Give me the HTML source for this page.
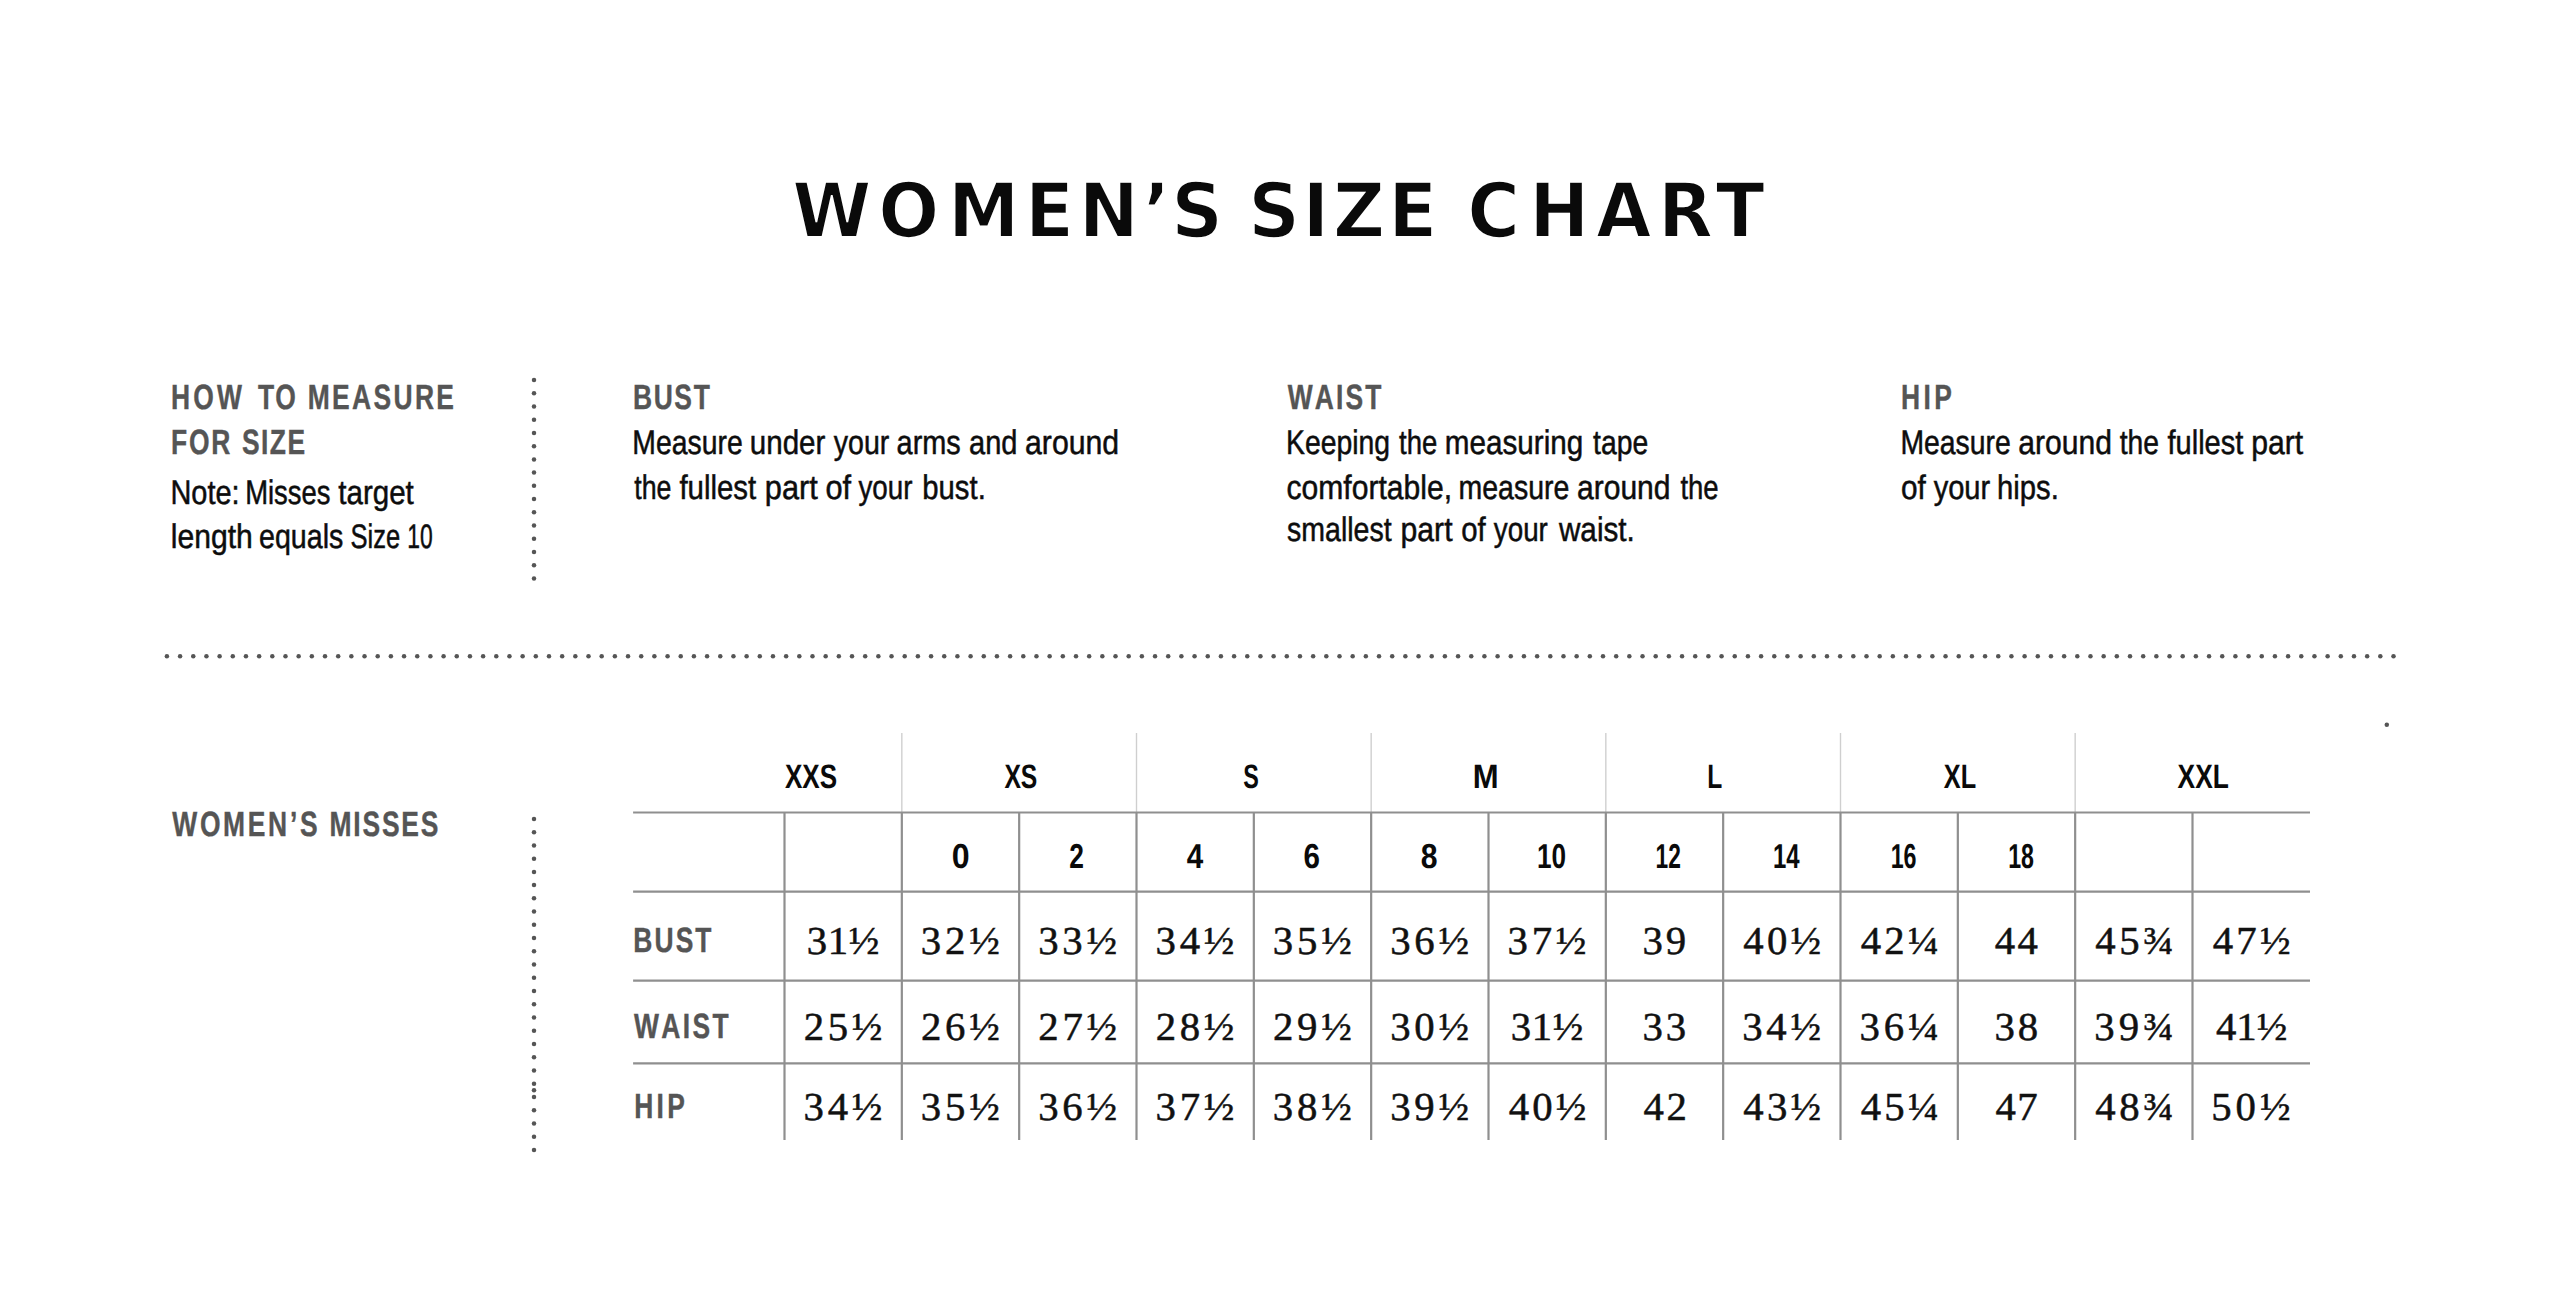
<!DOCTYPE html>
<html lang="en">
<head>
<meta charset="utf-8">
<title>Women’s Size Chart</title>
<style>
html,body{margin:0;padding:0;background:#fff;}
body{width:2560px;height:1313px;overflow:hidden;}
svg{display:block;}
text{font-kerning:none;font-variant-ligatures:none;white-space:pre;text-rendering:geometricPrecision;}
.title{font-family:"DejaVu Sans", "Liberation Sans", Arial, sans-serif;font-weight:bold;font-size:75.58px;fill:#0a0a0a;stroke:#fff;stroke-width:1.8px;stroke-linejoin:miter;}
.hd{font-family:"Liberation Sans", Arial, Helvetica, sans-serif;font-weight:bold;font-size:35.0px;fill:#555;stroke:#555;stroke-width:0.4px;}
.bd{font-family:"Liberation Sans", Arial, Helvetica, sans-serif;font-weight:normal;font-size:34.0px;fill:#0d0d0d;stroke:#0d0d0d;stroke-width:0.5px;}
.th{font-family:"Liberation Sans", Arial, Helvetica, sans-serif;font-weight:bold;font-size:33.8px;fill:#0a0a0a;}
.tn{font-family:"Liberation Sans", Arial, Helvetica, sans-serif;font-weight:bold;font-size:34.6px;fill:#0a0a0a;}
.dt{font-family:"Liberation Serif", "Times New Roman", serif;font-weight:normal;font-size:39.6px;fill:#111;stroke:#111;stroke-width:0.5px;}
</style>
</head>
<body>
<svg width="2560" height="1313" viewBox="0 0 2560 1313">
<rect width="2560" height="1313" fill="#ffffff"/>
<text class="title" transform="translate(792.21 236.70) scale(0.9497 1)" x="0.00 90.55 163.93 245.13 301.72 369.43 399.22 453.65 480.08 537.32 569.50 627.62 679.25 710.75 776.03 846.32 911.73 972.53">WOMEN’S SIZE CHART</text>
<g><text class="hd" letter-spacing="4.116" transform="translate(171.03 409.00) scale(0.7550 1)">HOW</text> <text class="hd" letter-spacing="1.604" transform="translate(258.00 409.00) scale(0.7550 1)">TO</text> <text class="hd" letter-spacing="3.104" transform="translate(307.73 409.00) scale(0.7550 1)">MEASURE</text></g>
<g><text class="hd" letter-spacing="2.404" transform="translate(171.03 454.10) scale(0.7550 1)">FOR</text> <text class="hd" letter-spacing="1.881" transform="translate(242.04 454.10) scale(0.7550 1)">SIZE</text></g>
<g><text class="hd" letter-spacing="2.171" transform="translate(632.93 408.75) scale(0.7550 1)">BUST</text></g>
<g><text class="hd" letter-spacing="2.840" transform="translate(1287.77 408.75) scale(0.7550 1)">WAIST</text></g>
<g><text class="hd" letter-spacing="4.517" transform="translate(1901.03 408.75) scale(0.7550 1)">HIP</text></g>
<g><text class="hd" letter-spacing="3.549" transform="translate(172.27 835.50) scale(0.7550 1)">WOMEN’S</text> <text class="hd" letter-spacing="2.370" transform="translate(329.53 835.50) scale(0.7550 1)">MISSES</text></g>
<g><text class="hd" letter-spacing="2.745" transform="translate(633.33 951.80) scale(0.7550 1)">BUST</text></g>
<g><text class="hd" letter-spacing="3.105" transform="translate(634.07 1038.20) scale(0.7550 1)">WAIST</text></g>
<g><text class="hd" letter-spacing="4.385" transform="translate(634.23 1118.25) scale(0.7550 1)">HIP</text></g>
<g><text class="bd" transform="translate(170.43 504.40) scale(0.8505 1)">Note:</text> <text class="bd" transform="translate(245.15 504.40) scale(0.8067 1)">Misses</text> <text class="bd" transform="translate(338.35 504.40) scale(0.8680 1)">target</text></g>
<g><text class="bd" transform="translate(170.77 548.30) scale(0.8861 1)">length</text> <text class="bd" transform="translate(258.98 548.30) scale(0.8419 1)">equals</text> <text class="bd" transform="translate(350.44 548.30) scale(0.7514 1)">Size</text> <text class="bd" transform="translate(407.36 548.30) scale(0.6726 1)">10</text></g>
<g><text class="bd" transform="translate(632.37 453.80) scale(0.8337 1)">Measure</text> <text class="bd" transform="translate(749.78 453.80) scale(0.8695 1)">under</text> <text class="bd" transform="translate(833.83 453.80) scale(0.8398 1)">your</text> <text class="bd" transform="translate(896.57 453.80) scale(0.8493 1)">arms</text> <text class="bd" transform="translate(969.07 453.80) scale(0.8532 1)">and</text> <text class="bd" transform="translate(1025.02 453.80) scale(0.8892 1)">around</text></g>
<g><text class="bd" transform="translate(634.30 498.50) scale(0.7869 1)">the</text> <text class="bd" transform="translate(679.38 498.50) scale(0.8650 1)">fullest</text> <text class="bd" transform="translate(764.82 498.50) scale(0.9030 1)">part</text> <text class="bd" transform="translate(825.41 498.50) scale(0.9045 1)">of</text> <text class="bd" transform="translate(858.43 498.50) scale(0.8169 1)">your</text> <text class="bd" transform="translate(922.31 498.50) scale(0.8609 1)">bust.</text></g>
<g><text class="bd" transform="translate(1286.07 453.80) scale(0.8339 1)">Keeping</text> <text class="bd" transform="translate(1399.08 453.80) scale(0.8090 1)">the</text> <text class="bd" transform="translate(1444.83 453.80) scale(0.8717 1)">measuring</text> <text class="bd" transform="translate(1593.07 453.80) scale(0.8324 1)">tape</text></g>
<g><text class="bd" transform="translate(1286.52 498.50) scale(0.8845 1)">comfortable,</text> <text class="bd" transform="translate(1458.51 498.50) scale(0.8380 1)">measure</text> <text class="bd" transform="translate(1576.92 498.50) scale(0.8843 1)">around</text> <text class="bd" transform="translate(1680.38 498.50) scale(0.8090 1)">the</text></g>
<g><text class="bd" transform="translate(1287.01 541.20) scale(0.8389 1)">smallest</text> <text class="bd" transform="translate(1400.56 541.20) scale(0.8870 1)">part</text> <text class="bd" transform="translate(1461.27 541.20) scale(0.8637 1)">of</text> <text class="bd" transform="translate(1493.83 541.20) scale(0.8169 1)">your</text> <text class="bd" transform="translate(1558.94 541.20) scale(0.8729 1)">waist.</text></g>
<g><text class="bd" transform="translate(1900.47 453.80) scale(0.8337 1)">Measure</text> <text class="bd" transform="translate(2018.32 453.80) scale(0.8843 1)">around</text> <text class="bd" transform="translate(2119.77 453.80) scale(0.8311 1)">the</text> <text class="bd" transform="translate(2167.49 453.80) scale(0.8537 1)">fullest</text> <text class="bd" transform="translate(2251.26 453.80) scale(0.8870 1)">part</text></g>
<g><text class="bd" transform="translate(1900.95 498.50) scale(0.8748 1)">of</text> <text class="bd" transform="translate(1933.63 498.50) scale(0.8551 1)">your</text> <text class="bd" transform="translate(1997.07 498.50) scale(0.8590 1)">hips.</text></g>
<g><line x1="784.50" y1="812.5" x2="784.50" y2="1140.0" stroke="#8f8f8f" stroke-width="2.2"/><line x1="901.83" y1="733" x2="901.83" y2="812.5" stroke="#cfcfcf" stroke-width="1.4"/><line x1="901.83" y1="812.5" x2="901.83" y2="1140.0" stroke="#8f8f8f" stroke-width="2.2"/><line x1="1019.17" y1="812.5" x2="1019.17" y2="1140.0" stroke="#8f8f8f" stroke-width="2.2"/><line x1="1136.50" y1="733" x2="1136.50" y2="812.5" stroke="#cfcfcf" stroke-width="1.4"/><line x1="1136.50" y1="812.5" x2="1136.50" y2="1140.0" stroke="#8f8f8f" stroke-width="2.2"/><line x1="1253.83" y1="812.5" x2="1253.83" y2="1140.0" stroke="#8f8f8f" stroke-width="2.2"/><line x1="1371.16" y1="733" x2="1371.16" y2="812.5" stroke="#cfcfcf" stroke-width="1.4"/><line x1="1371.16" y1="812.5" x2="1371.16" y2="1140.0" stroke="#8f8f8f" stroke-width="2.2"/><line x1="1488.50" y1="812.5" x2="1488.50" y2="1140.0" stroke="#8f8f8f" stroke-width="2.2"/><line x1="1605.83" y1="733" x2="1605.83" y2="812.5" stroke="#cfcfcf" stroke-width="1.4"/><line x1="1605.83" y1="812.5" x2="1605.83" y2="1140.0" stroke="#8f8f8f" stroke-width="2.2"/><line x1="1723.16" y1="812.5" x2="1723.16" y2="1140.0" stroke="#8f8f8f" stroke-width="2.2"/><line x1="1840.50" y1="733" x2="1840.50" y2="812.5" stroke="#cfcfcf" stroke-width="1.4"/><line x1="1840.50" y1="812.5" x2="1840.50" y2="1140.0" stroke="#8f8f8f" stroke-width="2.2"/><line x1="1957.83" y1="812.5" x2="1957.83" y2="1140.0" stroke="#8f8f8f" stroke-width="2.2"/><line x1="2075.16" y1="733" x2="2075.16" y2="812.5" stroke="#cfcfcf" stroke-width="1.4"/><line x1="2075.16" y1="812.5" x2="2075.16" y2="1140.0" stroke="#8f8f8f" stroke-width="2.2"/><line x1="2192.50" y1="812.5" x2="2192.50" y2="1140.0" stroke="#8f8f8f" stroke-width="2.2"/><line x1="633.1" y1="812.5" x2="2310.0" y2="812.5" stroke="#8f8f8f" stroke-width="2.2"/><line x1="633.1" y1="891.55" x2="2310.0" y2="891.55" stroke="#8f8f8f" stroke-width="2.2"/><line x1="633.1" y1="980.6" x2="2310.0" y2="980.6" stroke="#8f8f8f" stroke-width="2.2"/><line x1="633.1" y1="1063.3" x2="2310.0" y2="1063.3" stroke="#8f8f8f" stroke-width="2.2"/></g>
<g><text class="th" transform="translate(784.97 787.80) scale(0.7710 1)">XXS</text> <text class="th" transform="translate(1004.38 787.80) scale(0.7315 1)">XS</text> <text class="th" transform="translate(1243.23 787.80) scale(0.6913 1)">S</text> <text class="th" transform="translate(1472.82 787.80) scale(0.9182 1)">M</text> <text class="th" transform="translate(1707.26 787.80) scale(0.7264 1)">L</text> <text class="th" transform="translate(1943.78 787.80) scale(0.7478 1)">XL</text> <text class="th" transform="translate(2177.57 787.80) scale(0.7795 1)">XXL</text></g>
<g><text class="tn" transform="translate(951.63 867.80) scale(0.9298 1)">0</text> <text class="tn" transform="translate(1069.29 867.80) scale(0.7624 1)">2</text> <text class="tn" transform="translate(1186.85 867.80) scale(0.8579 1)">4</text> <text class="tn" transform="translate(1303.52 867.80) scale(0.8550 1)">6</text> <text class="tn" transform="translate(1420.64 867.80) scale(0.8723 1)">8</text> <text class="tn" transform="translate(1536.95 867.80) scale(0.7567 1)">10</text> <text class="tn" transform="translate(1655.46 867.80) scale(0.6586 1)">12</text> <text class="tn" transform="translate(1772.99 867.80) scale(0.6921 1)">14</text> <text class="tn" transform="translate(1890.63 867.80) scale(0.6732 1)">16</text> <text class="tn" transform="translate(2008.24 867.80) scale(0.6697 1)">18</text></g>
<g><text class="dt" letter-spacing="0.60" transform="translate(806.66 954.00) scale(1.03 1)">31½</text> <text class="dt" letter-spacing="3.65" transform="translate(920.85 954.00) scale(1.03 1)">32½</text> <text class="dt" letter-spacing="3.65" transform="translate(1038.18 954.00) scale(1.03 1)">33½</text> <text class="dt" letter-spacing="3.65" transform="translate(1155.51 954.00) scale(1.03 1)">34½</text> <text class="dt" letter-spacing="3.65" transform="translate(1272.85 954.00) scale(1.03 1)">35½</text> <text class="dt" letter-spacing="3.65" transform="translate(1390.18 954.00) scale(1.03 1)">36½</text> <text class="dt" letter-spacing="3.65" transform="translate(1507.51 954.00) scale(1.03 1)">37½</text> <text class="dt" letter-spacing="2.95" transform="translate(1642.45 954.00) scale(1.03 1)">39</text> <text class="dt" letter-spacing="3.09" transform="translate(1743.33 954.00) scale(1.03 1)">40½</text> <text class="dt" letter-spacing="3.19" transform="translate(1860.67 954.00) scale(1.03 1)">42¼</text> <text class="dt" letter-spacing="2.28" transform="translate(1994.85 954.00) scale(1.03 1)">44</text> <text class="dt" letter-spacing="3.47" transform="translate(2095.33 954.00) scale(1.03 1)">45¾</text> <text class="dt" letter-spacing="3.09" transform="translate(2212.75 954.00) scale(1.03 1)">47½</text></g>
<g><text class="dt" letter-spacing="3.58" transform="translate(803.67 1039.60) scale(1.03 1)">25½</text> <text class="dt" letter-spacing="3.58" transform="translate(921.01 1039.60) scale(1.03 1)">26½</text> <text class="dt" letter-spacing="3.58" transform="translate(1038.34 1039.60) scale(1.03 1)">27½</text> <text class="dt" letter-spacing="3.58" transform="translate(1155.67 1039.60) scale(1.03 1)">28½</text> <text class="dt" letter-spacing="3.58" transform="translate(1273.01 1039.60) scale(1.03 1)">29½</text> <text class="dt" letter-spacing="3.65" transform="translate(1390.18 1039.60) scale(1.03 1)">30½</text> <text class="dt" letter-spacing="0.60" transform="translate(1510.66 1039.60) scale(1.03 1)">31½</text> <text class="dt" letter-spacing="2.87" transform="translate(1642.45 1039.60) scale(1.03 1)">33</text> <text class="dt" letter-spacing="3.65" transform="translate(1742.18 1039.60) scale(1.03 1)">34½</text> <text class="dt" letter-spacing="3.75" transform="translate(1859.51 1039.60) scale(1.03 1)">36¼</text> <text class="dt" letter-spacing="2.83" transform="translate(1994.44 1039.60) scale(1.03 1)">38</text> <text class="dt" letter-spacing="4.03" transform="translate(2094.18 1039.60) scale(1.03 1)">39¾</text> <text class="dt" letter-spacing="0.03" transform="translate(2215.90 1039.60) scale(1.03 1)">41½</text></g>
<g><text class="dt" letter-spacing="3.65" transform="translate(803.51 1120.30) scale(1.03 1)">34½</text> <text class="dt" letter-spacing="3.65" transform="translate(920.85 1120.30) scale(1.03 1)">35½</text> <text class="dt" letter-spacing="3.65" transform="translate(1038.18 1120.30) scale(1.03 1)">36½</text> <text class="dt" letter-spacing="3.65" transform="translate(1155.51 1120.30) scale(1.03 1)">37½</text> <text class="dt" letter-spacing="3.65" transform="translate(1272.85 1120.30) scale(1.03 1)">38½</text> <text class="dt" letter-spacing="3.65" transform="translate(1390.18 1120.30) scale(1.03 1)">39½</text> <text class="dt" letter-spacing="3.09" transform="translate(1508.67 1120.30) scale(1.03 1)">40½</text> <text class="dt" letter-spacing="2.39" transform="translate(1643.60 1120.30) scale(1.03 1)">42</text> <text class="dt" letter-spacing="3.09" transform="translate(1743.33 1120.30) scale(1.03 1)">43½</text> <text class="dt" letter-spacing="3.19" transform="translate(1860.67 1120.30) scale(1.03 1)">45¼</text> <text class="dt" letter-spacing="1.34" transform="translate(1995.60 1120.30) scale(1.03 1)">47</text> <text class="dt" letter-spacing="3.47" transform="translate(2095.33 1120.30) scale(1.03 1)">48¾</text> <text class="dt" letter-spacing="3.86" transform="translate(2211.18 1120.30) scale(1.03 1)">50½</text></g>
<g fill="#555"><circle cx="166.90" cy="656.25" r="2.25"/><circle cx="180.08" cy="656.25" r="2.25"/><circle cx="193.25" cy="656.25" r="2.25"/><circle cx="206.43" cy="656.25" r="2.25"/><circle cx="219.60" cy="656.25" r="2.25"/><circle cx="232.78" cy="656.25" r="2.25"/><circle cx="245.95" cy="656.25" r="2.25"/><circle cx="259.13" cy="656.25" r="2.25"/><circle cx="272.30" cy="656.25" r="2.25"/><circle cx="285.48" cy="656.25" r="2.25"/><circle cx="298.65" cy="656.25" r="2.25"/><circle cx="311.83" cy="656.25" r="2.25"/><circle cx="325.00" cy="656.25" r="2.25"/><circle cx="338.18" cy="656.25" r="2.25"/><circle cx="351.35" cy="656.25" r="2.25"/><circle cx="364.53" cy="656.25" r="2.25"/><circle cx="377.70" cy="656.25" r="2.25"/><circle cx="390.88" cy="656.25" r="2.25"/><circle cx="404.05" cy="656.25" r="2.25"/><circle cx="417.23" cy="656.25" r="2.25"/><circle cx="430.40" cy="656.25" r="2.25"/><circle cx="443.58" cy="656.25" r="2.25"/><circle cx="456.75" cy="656.25" r="2.25"/><circle cx="469.93" cy="656.25" r="2.25"/><circle cx="483.10" cy="656.25" r="2.25"/><circle cx="496.28" cy="656.25" r="2.25"/><circle cx="509.45" cy="656.25" r="2.25"/><circle cx="522.63" cy="656.25" r="2.25"/><circle cx="535.80" cy="656.25" r="2.25"/><circle cx="548.98" cy="656.25" r="2.25"/><circle cx="562.15" cy="656.25" r="2.25"/><circle cx="575.33" cy="656.25" r="2.25"/><circle cx="588.50" cy="656.25" r="2.25"/><circle cx="601.68" cy="656.25" r="2.25"/><circle cx="614.86" cy="656.25" r="2.25"/><circle cx="628.03" cy="656.25" r="2.25"/><circle cx="641.21" cy="656.25" r="2.25"/><circle cx="654.38" cy="656.25" r="2.25"/><circle cx="667.56" cy="656.25" r="2.25"/><circle cx="680.73" cy="656.25" r="2.25"/><circle cx="693.91" cy="656.25" r="2.25"/><circle cx="707.08" cy="656.25" r="2.25"/><circle cx="720.26" cy="656.25" r="2.25"/><circle cx="733.43" cy="656.25" r="2.25"/><circle cx="746.61" cy="656.25" r="2.25"/><circle cx="759.78" cy="656.25" r="2.25"/><circle cx="772.96" cy="656.25" r="2.25"/><circle cx="786.13" cy="656.25" r="2.25"/><circle cx="799.31" cy="656.25" r="2.25"/><circle cx="812.48" cy="656.25" r="2.25"/><circle cx="825.66" cy="656.25" r="2.25"/><circle cx="838.83" cy="656.25" r="2.25"/><circle cx="852.01" cy="656.25" r="2.25"/><circle cx="865.18" cy="656.25" r="2.25"/><circle cx="878.36" cy="656.25" r="2.25"/><circle cx="891.53" cy="656.25" r="2.25"/><circle cx="904.71" cy="656.25" r="2.25"/><circle cx="917.88" cy="656.25" r="2.25"/><circle cx="931.06" cy="656.25" r="2.25"/><circle cx="944.23" cy="656.25" r="2.25"/><circle cx="957.41" cy="656.25" r="2.25"/><circle cx="970.58" cy="656.25" r="2.25"/><circle cx="983.76" cy="656.25" r="2.25"/><circle cx="996.93" cy="656.25" r="2.25"/><circle cx="1010.11" cy="656.25" r="2.25"/><circle cx="1023.28" cy="656.25" r="2.25"/><circle cx="1036.46" cy="656.25" r="2.25"/><circle cx="1049.63" cy="656.25" r="2.25"/><circle cx="1062.81" cy="656.25" r="2.25"/><circle cx="1075.99" cy="656.25" r="2.25"/><circle cx="1089.16" cy="656.25" r="2.25"/><circle cx="1102.34" cy="656.25" r="2.25"/><circle cx="1115.51" cy="656.25" r="2.25"/><circle cx="1128.69" cy="656.25" r="2.25"/><circle cx="1141.86" cy="656.25" r="2.25"/><circle cx="1155.04" cy="656.25" r="2.25"/><circle cx="1168.21" cy="656.25" r="2.25"/><circle cx="1181.39" cy="656.25" r="2.25"/><circle cx="1194.56" cy="656.25" r="2.25"/><circle cx="1207.74" cy="656.25" r="2.25"/><circle cx="1220.91" cy="656.25" r="2.25"/><circle cx="1234.09" cy="656.25" r="2.25"/><circle cx="1247.26" cy="656.25" r="2.25"/><circle cx="1260.44" cy="656.25" r="2.25"/><circle cx="1273.61" cy="656.25" r="2.25"/><circle cx="1286.79" cy="656.25" r="2.25"/><circle cx="1299.96" cy="656.25" r="2.25"/><circle cx="1313.14" cy="656.25" r="2.25"/><circle cx="1326.31" cy="656.25" r="2.25"/><circle cx="1339.49" cy="656.25" r="2.25"/><circle cx="1352.66" cy="656.25" r="2.25"/><circle cx="1365.84" cy="656.25" r="2.25"/><circle cx="1379.01" cy="656.25" r="2.25"/><circle cx="1392.19" cy="656.25" r="2.25"/><circle cx="1405.36" cy="656.25" r="2.25"/><circle cx="1418.54" cy="656.25" r="2.25"/><circle cx="1431.71" cy="656.25" r="2.25"/><circle cx="1444.89" cy="656.25" r="2.25"/><circle cx="1458.06" cy="656.25" r="2.25"/><circle cx="1471.24" cy="656.25" r="2.25"/><circle cx="1484.41" cy="656.25" r="2.25"/><circle cx="1497.59" cy="656.25" r="2.25"/><circle cx="1510.77" cy="656.25" r="2.25"/><circle cx="1523.94" cy="656.25" r="2.25"/><circle cx="1537.12" cy="656.25" r="2.25"/><circle cx="1550.29" cy="656.25" r="2.25"/><circle cx="1563.47" cy="656.25" r="2.25"/><circle cx="1576.64" cy="656.25" r="2.25"/><circle cx="1589.82" cy="656.25" r="2.25"/><circle cx="1602.99" cy="656.25" r="2.25"/><circle cx="1616.17" cy="656.25" r="2.25"/><circle cx="1629.34" cy="656.25" r="2.25"/><circle cx="1642.52" cy="656.25" r="2.25"/><circle cx="1655.69" cy="656.25" r="2.25"/><circle cx="1668.87" cy="656.25" r="2.25"/><circle cx="1682.04" cy="656.25" r="2.25"/><circle cx="1695.22" cy="656.25" r="2.25"/><circle cx="1708.39" cy="656.25" r="2.25"/><circle cx="1721.57" cy="656.25" r="2.25"/><circle cx="1734.74" cy="656.25" r="2.25"/><circle cx="1747.92" cy="656.25" r="2.25"/><circle cx="1761.09" cy="656.25" r="2.25"/><circle cx="1774.27" cy="656.25" r="2.25"/><circle cx="1787.44" cy="656.25" r="2.25"/><circle cx="1800.62" cy="656.25" r="2.25"/><circle cx="1813.79" cy="656.25" r="2.25"/><circle cx="1826.97" cy="656.25" r="2.25"/><circle cx="1840.14" cy="656.25" r="2.25"/><circle cx="1853.32" cy="656.25" r="2.25"/><circle cx="1866.49" cy="656.25" r="2.25"/><circle cx="1879.67" cy="656.25" r="2.25"/><circle cx="1892.84" cy="656.25" r="2.25"/><circle cx="1906.02" cy="656.25" r="2.25"/><circle cx="1919.19" cy="656.25" r="2.25"/><circle cx="1932.37" cy="656.25" r="2.25"/><circle cx="1945.54" cy="656.25" r="2.25"/><circle cx="1958.72" cy="656.25" r="2.25"/><circle cx="1971.90" cy="656.25" r="2.25"/><circle cx="1985.07" cy="656.25" r="2.25"/><circle cx="1998.25" cy="656.25" r="2.25"/><circle cx="2011.42" cy="656.25" r="2.25"/><circle cx="2024.60" cy="656.25" r="2.25"/><circle cx="2037.77" cy="656.25" r="2.25"/><circle cx="2050.95" cy="656.25" r="2.25"/><circle cx="2064.12" cy="656.25" r="2.25"/><circle cx="2077.30" cy="656.25" r="2.25"/><circle cx="2090.47" cy="656.25" r="2.25"/><circle cx="2103.65" cy="656.25" r="2.25"/><circle cx="2116.82" cy="656.25" r="2.25"/><circle cx="2130.00" cy="656.25" r="2.25"/><circle cx="2143.17" cy="656.25" r="2.25"/><circle cx="2156.35" cy="656.25" r="2.25"/><circle cx="2169.52" cy="656.25" r="2.25"/><circle cx="2182.70" cy="656.25" r="2.25"/><circle cx="2195.87" cy="656.25" r="2.25"/><circle cx="2209.05" cy="656.25" r="2.25"/><circle cx="2222.22" cy="656.25" r="2.25"/><circle cx="2235.40" cy="656.25" r="2.25"/><circle cx="2248.57" cy="656.25" r="2.25"/><circle cx="2261.75" cy="656.25" r="2.25"/><circle cx="2274.92" cy="656.25" r="2.25"/><circle cx="2288.10" cy="656.25" r="2.25"/><circle cx="2301.27" cy="656.25" r="2.25"/><circle cx="2314.45" cy="656.25" r="2.25"/><circle cx="2327.62" cy="656.25" r="2.25"/><circle cx="2340.80" cy="656.25" r="2.25"/><circle cx="2353.97" cy="656.25" r="2.25"/><circle cx="2367.15" cy="656.25" r="2.25"/><circle cx="2380.32" cy="656.25" r="2.25"/><circle cx="2393.50" cy="656.25" r="2.25"/><circle cx="534.00" cy="380.00" r="2.25"/><circle cx="534.00" cy="393.23" r="2.25"/><circle cx="534.00" cy="406.46" r="2.25"/><circle cx="534.00" cy="419.69" r="2.25"/><circle cx="534.00" cy="432.92" r="2.25"/><circle cx="534.00" cy="446.15" r="2.25"/><circle cx="534.00" cy="459.38" r="2.25"/><circle cx="534.00" cy="472.61" r="2.25"/><circle cx="534.00" cy="485.84" r="2.25"/><circle cx="534.00" cy="499.07" r="2.25"/><circle cx="534.00" cy="512.30" r="2.25"/><circle cx="534.00" cy="525.53" r="2.25"/><circle cx="534.00" cy="538.76" r="2.25"/><circle cx="534.00" cy="551.99" r="2.25"/><circle cx="534.00" cy="565.22" r="2.25"/><circle cx="534.00" cy="578.45" r="2.25"/><circle cx="534.00" cy="818.90" r="2.25"/><circle cx="534.00" cy="832.14" r="2.25"/><circle cx="534.00" cy="845.39" r="2.25"/><circle cx="534.00" cy="858.63" r="2.25"/><circle cx="534.00" cy="871.88" r="2.25"/><circle cx="534.00" cy="885.12" r="2.25"/><circle cx="534.00" cy="898.36" r="2.25"/><circle cx="534.00" cy="911.61" r="2.25"/><circle cx="534.00" cy="924.85" r="2.25"/><circle cx="534.00" cy="938.10" r="2.25"/><circle cx="534.00" cy="951.34" r="2.25"/><circle cx="534.00" cy="964.58" r="2.25"/><circle cx="534.00" cy="977.83" r="2.25"/><circle cx="534.00" cy="991.07" r="2.25"/><circle cx="534.00" cy="1004.32" r="2.25"/><circle cx="534.00" cy="1017.56" r="2.25"/><circle cx="534.00" cy="1030.80" r="2.25"/><circle cx="534.00" cy="1044.05" r="2.25"/><circle cx="534.00" cy="1057.29" r="2.25"/><circle cx="534.00" cy="1070.54" r="2.25"/><circle cx="534.00" cy="1083.78" r="2.25"/><circle cx="534.00" cy="1097.02" r="2.25"/><circle cx="534.00" cy="1110.27" r="2.25"/><circle cx="534.00" cy="1123.51" r="2.25"/><circle cx="534.00" cy="1136.76" r="2.25"/><circle cx="534.00" cy="1150.00" r="2.25"/><circle cx="534.00" cy="1090.30" r="2.25"/><circle cx="2386.80" cy="724.80" r="2.25"/></g>
</svg>
</body>
</html>
